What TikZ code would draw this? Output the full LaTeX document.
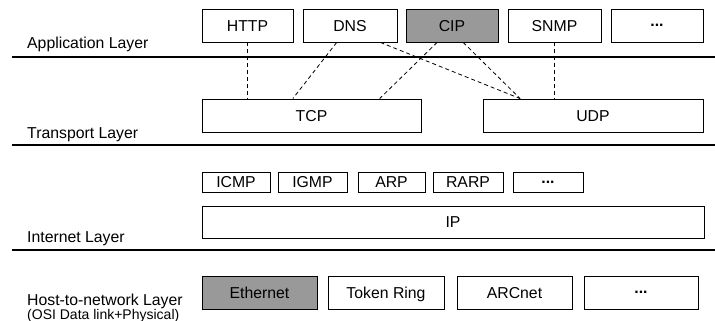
\documentclass[tikz,border=0pt]{standalone}
\usepackage{fontspec}
\setmainfont{Liberation Sans}
\usetikzlibrary{calc}
\definecolor{shade}{RGB}{153,153,153}

\begin{document}
\begin{tikzpicture}[
      x=1pt, y=-1pt,
      font=\fontsize{15.8}{18}\selectfont
    ]

    \tikzstyle{proto} = [
        rectangle,
        draw,
        line width=0.8pt,
        inner sep=0pt,
        minimum height=33pt,
        text height=11.3pt,
        text depth=0pt,
        text centered,
    ]

    \tikzstyle{small} = [
        proto,
        minimum height=20pt,
    ]

    \tikzstyle{more} = [
        text height=2pt,
    ]

    \tikzstyle{layer} = [
        anchor=base west,
        inner sep=0pt,
    ]

    \tikzstyle{sep} = [
        draw,
        line width=2pt,
    ]

    \tikzstyle{link} = [
        draw,
        line width=0.8pt,
        dash pattern=on 4pt off 3pt,
    ]

    \useasboundingbox (0,0) rectangle (715,321);

    % application layer
    \node [proto, minimum width=91pt]             (http) at (247.5,25.5) {HTTP};
    \node [proto, minimum width=94pt]              (dns) at (350,25.5)   {DNS};
    \node [proto, minimum width=92pt, fill=shade]  (cip) at (452,25.5)   {CIP};
    \node [proto, minimum width=93pt]             (snmp) at (554.5,25.5) {SNMP};
    \node [proto, more, minimum width=92pt]    (appmore) at (657,25.5)   {\textbf{...}};
    \node [layer]                               (applbl) at (27,48.5)    {Application Layer};
    \path [sep] (12,57) -- (715,57);

    % transport layer
    \node [proto, minimum width=219pt]             (tcp) at (311.5,115.5) {TCP};
    \node [proto, minimum width=220pt]             (udp) at (593,115.5)   {UDP};
    \node [layer]                               (trnlbl) at (27,138)      {Transport Layer};
    \path [sep] (12,144.5) -- (715,144.5);

    \path [link] (http.south) -- (http.south |- tcp.north);
    \path [link] ($(dns.south west)!.36!(dns.south east)$) -- ($(tcp.north west)!.415!(tcp.north east)$);
    \path [link] ($(dns.south west)!.82!(dns.south east)$) -- ($(udp.north west)!.17!(udp.north east)$);
    \path [link] ($(cip.south west)!.34!(cip.south east)$) -- ($(tcp.north west)!.81!(tcp.north east)$);
    \path [link] ($(cip.south west)!.62!(cip.south east)$) -- ($(udp.north west)!.17!(udp.north east)$);
    \path [link] (snmp.south) -- (snmp.south |- udp.north);

    % internet layer
    \node [small, minimum width=68pt]             (icmp) at (236,182)   {ICMP};
    \node [small, minimum width=69pt]             (igmp) at (312.5,182) {IGMP};
    \node [small, minimum width=67pt]              (arp) at (391.5,182) {ARP};
    \node [small, minimum width=70pt]             (rarp) at (468,182)   {RARP};
    \node [small, more, minimum width=70pt]    (netmore) at (548,182)   {\textbf{...}};
    \node [proto, minimum width=502pt, minimum height=32pt] (ip) at (453,222) {IP};
    \node [layer]                               (netlbl) at (27,242.3)  {Internet Layer};
    \path [sep] (12,249.5) -- (715,249.5);

    % host-to-network layer
    \node [proto, minimum width=115pt, fill=shade] (eth) at (259.5,292.5) {Ethernet};
    \node [proto, minimum width=116pt]           (token) at (386,292.5)   {Token Ring};
    \node [proto, minimum width=115pt]          (arcnet) at (514.5,292.5) {ARCnet};
    \node [proto, more, minimum width=114pt]  (hostmore) at (641,292.5)   {\textbf{...}};
    \node [layer]                              (hostlbl) at (27,305)      {Host-to-network Layer};
    \node [layer, font=\fontsize{14}{16}\selectfont] (osilbl) at (27,319.5) {(OSI Data link+Physical)};

\end{tikzpicture}
\end{document}
